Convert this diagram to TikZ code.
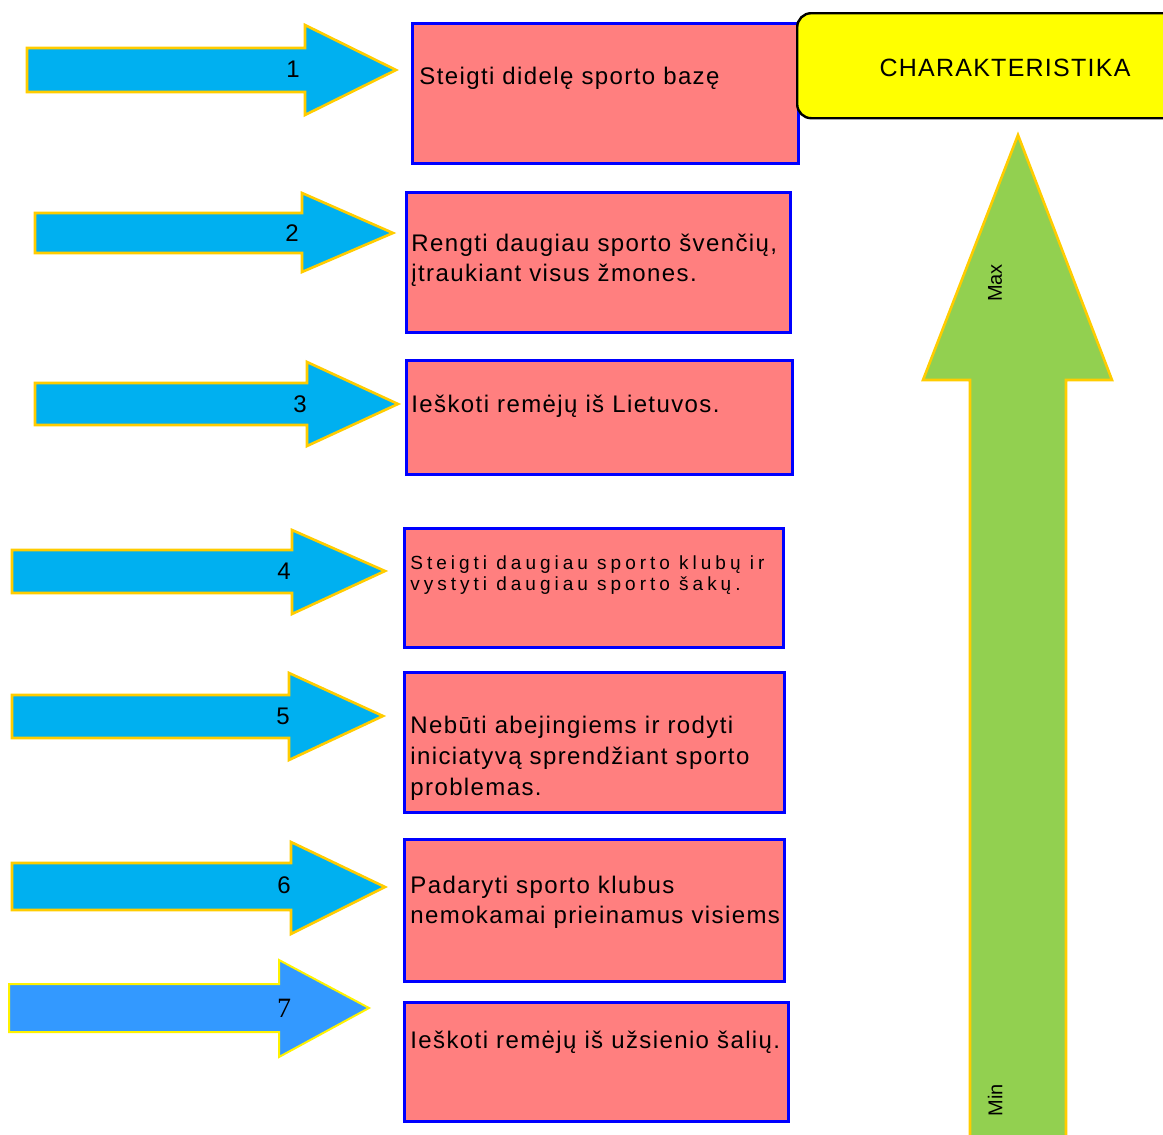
\documentclass[tikz,border=0pt]{standalone}
\usepackage{fontspec}
\setmainfont{Liberation Sans}
\newfontfamily\numserif{Liberation Serif}
\newfontfamily\spacedfont[LetterSpace=5.8]{Liberation Sans}
\newfontfamily\widefont[LetterSpace=21]{Liberation Sans}
\newfontfamily\titlefont[LetterSpace=5]{Liberation Sans}
\definecolor{arrowblue}{RGB}{0,176,240}
\definecolor{arrowblue7}{RGB}{51,153,255}
\definecolor{arrowgold}{RGB}{255,204,0}
\definecolor{boxfill}{RGB}{255,127,127}
\definecolor{boxline}{RGB}{0,0,255}
\definecolor{greenarrow}{RGB}{146,208,80}
\definecolor{charfill}{RGB}{255,255,0}
\begin{document}
\begin{tikzpicture}[x={(0.5pt,0)},y={(0,-0.5pt)},
  arrowshape/.style={fill=arrowblue,draw=arrowgold,line width=1.3pt},
  stepbox/.style={draw=boxline,fill=boxfill,line width=1.5pt,anchor=north west,inner sep=0pt},
  boxtext/.style={anchor=west,align=left,inner sep=0pt,font=\spacedfont\fontsize{12pt}{14.8pt}\selectfont},
  smalltext/.style={anchor=west,align=left,inner sep=0pt,font=\widefont\fontsize{9.5pt}{10.5pt}\selectfont},
  numlabel/.style={inner sep=0pt,font=\fontsize{12pt}{14pt}\selectfont}]
\useasboundingbox (0,0) rectangle (1163,1135);
% blue arrows
\draw[arrowshape] (27,48) -- (305,48) -- (305,25) -- (396,70) -- (305,115) -- (305,92) -- (27,92) -- cycle;
\draw[arrowshape] (35,213) -- (302,213) -- (302,193) -- (393,233) -- (302,272) -- (302,253) -- (35,253) -- cycle;
\draw[arrowshape] (35,383) -- (307,383) -- (307,362) -- (398,404) -- (307,446) -- (307,425) -- (35,425) -- cycle;
\draw[arrowshape] (12,550) -- (292,550) -- (292,530) -- (385,571) -- (292,614) -- (292,593) -- (12,593) -- cycle;
\draw[arrowshape] (12,695) -- (289,695) -- (289,673) -- (383,716) -- (289,760) -- (289,738) -- (12,738) -- cycle;
\draw[arrowshape] (12,863) -- (291,863) -- (291,842) -- (385,887) -- (291,934) -- (291,910) -- (12,910) -- cycle;
\draw[arrowshape,fill=arrowblue7,draw=yellow,line width=1pt] (9,984) -- (279,984) -- (279,960) -- (369,1008) -- (279,1057) -- (279,1032) -- (9,1032) -- cycle;
\node[numlabel] (n1) at (293,69) {1};
\node[numlabel] (n2) at (292,233) {2};
\node[numlabel] (n3) at (300,404) {3};
\node[numlabel] (n4) at (284,571) {4};
\node[numlabel] (n5) at (283,716) {5};
\node[numlabel] (n6) at (284,885) {6};
\node[numlabel,font=\numserif\fontsize{14pt}{16pt}\selectfont] (n7) at (284,1008) {7};
% boxes
\node[stepbox,minimum width=193pt,minimum height=70pt] (b1) at (411,22) {};
\node[stepbox,minimum width=192pt,minimum height=70pt] (b2) at (405,191) {};
\node[stepbox,minimum width=193pt,minimum height=57pt] (b3) at (405,359) {};
\node[stepbox,minimum width=189.5pt,minimum height=59.5pt] (b4) at (403,527) {};
\node[stepbox,minimum width=190pt,minimum height=70pt] (b5) at (403,671) {};
\node[stepbox,minimum width=190pt,minimum height=71pt] (b6) at (403,838) {};
\node[stepbox,minimum width=192pt,minimum height=59.5pt] (b7) at (403,1001) {};
\node[boxtext] (t1) at (419,78) {Steigti didelę sporto bazę};
\node[boxtext] (t2) at (411,260) {Rengti daugiau sporto švenčių,\\įtraukiant visus žmones.};
\node[boxtext] (t3) at (411,406) {Ieškoti remėjų iš Lietuvos.};
\node[smalltext] (t4) at (410,575) {Steigti daugiau sporto klubų ir\\vystyti daugiau sporto šakų.};
\node[boxtext,font=\spacedfont\fontsize{12pt}{15.5pt}\selectfont] (t5) at (410,758) {Nebūti abejingiems ir rodyti\\iniciatyvą sprendžiant sporto\\problemas.};
\node[boxtext] (t6) at (410,902) {Padaryti sporto klubus\\nemokamai prieinamus visiems};
\node[boxtext] (t7) at (410,1042) {Ieškoti remėjų iš užsienio šalių.};
% characteristic box
\node[draw=black,fill=charfill,line width=1.2pt,rounded corners=7pt,anchor=north west,minimum width=200pt,minimum height=52.5pt,inner sep=0pt] (ch) at (796,12) {};
\node[inner sep=0pt,font=\titlefont\fontsize{12.5pt}{14pt}\selectfont] (cht) at (1005,68) {CHARAKTERISTIKA};
% green arrow
\draw[fill=greenarrow,draw=arrowgold,line width=1.3pt] (970,1140) -- (970,380) -- (923,380) -- (1018,135) -- (1112,380) -- (1066,380) -- (1066,1140) -- cycle;
\node[rotate=90,inner sep=0pt,font=\fontsize{10pt}{12pt}\selectfont] (mx) at (995,283) {Max};
\node[rotate=90,inner sep=0pt,font=\fontsize{10pt}{12pt}\selectfont] (mn) at (995,1100) {Min};
\end{tikzpicture}
\end{document}
